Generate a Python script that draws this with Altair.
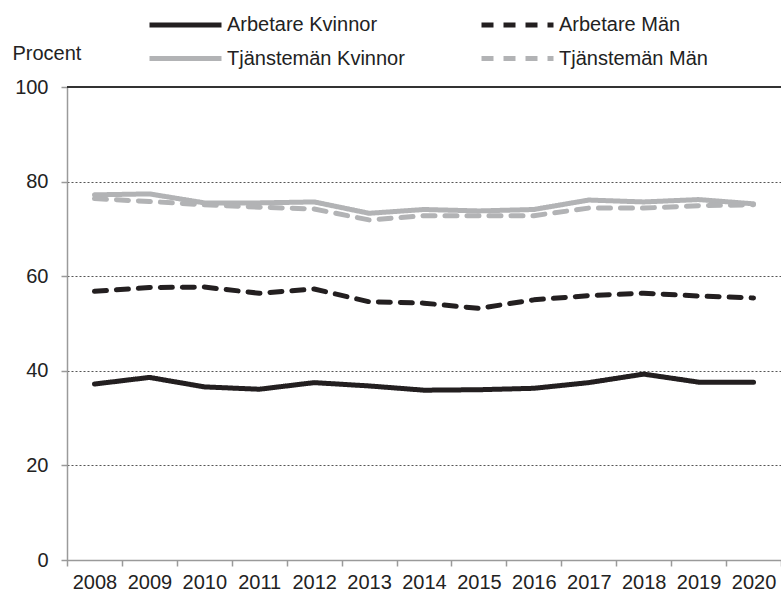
import altair as alt
import pandas as pd

years = ["2008", "2009", "2010", "2011", "2012", "2013", "2014",
         "2015", "2016", "2017", "2018", "2019", "2020"]

series_names = ["Arbetare Kvinnor", "Arbetare Män",
                "Tjänstemän Kvinnor", "Tjänstemän Män"]

arbetare_kvinnor = [37.2, 38.6, 36.6, 36.1, 37.5, 36.8, 35.9,
                    36.0, 36.3, 37.5, 39.3, 37.6, 37.6]
arbetare_man = [56.8, 57.6, 57.7, 56.4, 57.3, 54.6, 54.3,
                53.2, 55.0, 55.9, 56.4, 55.8, 55.4]
tjansteman_kvinnor = [77.2, 77.4, 75.5, 75.5, 75.7, 73.3, 74.1,
                      73.8, 74.1, 76.1, 75.7, 76.2, 75.3]
tjansteman_man = [76.4, 75.8, 75.1, 74.6, 74.2, 71.9, 72.8,
                  72.8, 72.8, 74.4, 74.4, 74.9, 75.1]

values_by_series = [arbetare_kvinnor, arbetare_man,
                    tjansteman_kvinnor, tjansteman_man]

line_colors = ["#231f20", "#231f20", "#b2b3b5", "#b2b3b5"]
line_dashes = [[1, 0], [12, 10], [1, 0], [12, 10]]

rows = []
for name, vals in zip(series_names, values_by_series):
    for yr, v in zip(years, vals):
        rows.append({"year": yr, "series": name, "value": v})
df = pd.DataFrame(rows)

FONT = "Liberation Sans"

legend_cfg = dict(
    title=None,
    orient="none",
    legendX=80,
    legendY=-74,
    direction="horizontal",
    columns=2,
    columnPadding=74,
    rowPadding=9.5,
    clipHeight=24,
    symbolType="stroke",
    symbolStrokeWidth=5,
    symbolSize=5184,
    labelFontSize=20,
    labelFont=FONT,
    labelColor="#222222",
    labelOffset=3,
    labelLimit=0,
)

x_enc = alt.X(
    "year:N",
    sort=years,
    bandPosition=0.5,
    scale=alt.Scale(type="band", paddingInner=0, paddingOuter=0),
    axis=alt.Axis(
        title=None,
        tickBand="extent",
        grid=False,
        labelAngle=0,
        labelFontSize=20,
        labelFont=FONT,
        labelColor="#222222",
        labelPadding=6,
        domainColor="#9a9a9a",
        domainWidth=1.5,
        tickColor="#9a9a9a",
        tickWidth=1.5,
        tickSize=6,
    ),
)

y_enc = alt.Y(
    "value:Q",
    scale=alt.Scale(domain=[0, 100], nice=False, zero=True),
    axis=alt.Axis(
        title="Procent",
        titleAngle=0,
        titleAlign="left",
        titleBaseline="middle",
        titleX=-55,
        titleY=-34,
        titleFontSize=20,
        titleFont=FONT,
        titleFontWeight="normal",
        titleColor="#222222",
        values=[0, 20, 40, 60, 80, 100],
        labelFontSize=20,
        labelFont=FONT,
        labelColor="#222222",
        labelPadding=13,
        domainColor="#9a9a9a",
        domainWidth=1.5,
        tickColor="#9a9a9a",
        tickWidth=1.5,
        tickSize=6,
        grid=True,
        gridColor="#555555",
        gridDash=[2, 2],
        gridWidth=1,
    ),
)

lines = alt.Chart(df).mark_line(
    strokeWidth=5, strokeCap="round", strokeJoin="round"
).encode(
    x=x_enc,
    y=y_enc,
    color=alt.Color(
        "series:N",
        sort=series_names,
        scale=alt.Scale(domain=series_names, range=line_colors),
        legend=alt.Legend(**legend_cfg),
    ),
    strokeDash=alt.StrokeDash(
        "series:N",
        sort=series_names,
        scale=alt.Scale(domain=series_names, range=line_dashes),
        legend=alt.Legend(**legend_cfg),
    ),
)

# solid frame line along the top of the value range
top_rule = alt.Chart(pd.DataFrame({"v": [100]})).mark_rule(
    color="#333333", strokeWidth=2
).encode(y=alt.Y("v:Q"))

chart = alt.layer(lines, top_rule).properties(
    width=714,
    height=473,
    autosize=alt.AutoSizeParams(type="none"),
    padding={"left": 67, "top": 87, "right": 0, "bottom": 35},
).configure_view(stroke=None).configure(background="white")

chart.save("out.html", embed_options={"renderer": "svg", "actions": False})
